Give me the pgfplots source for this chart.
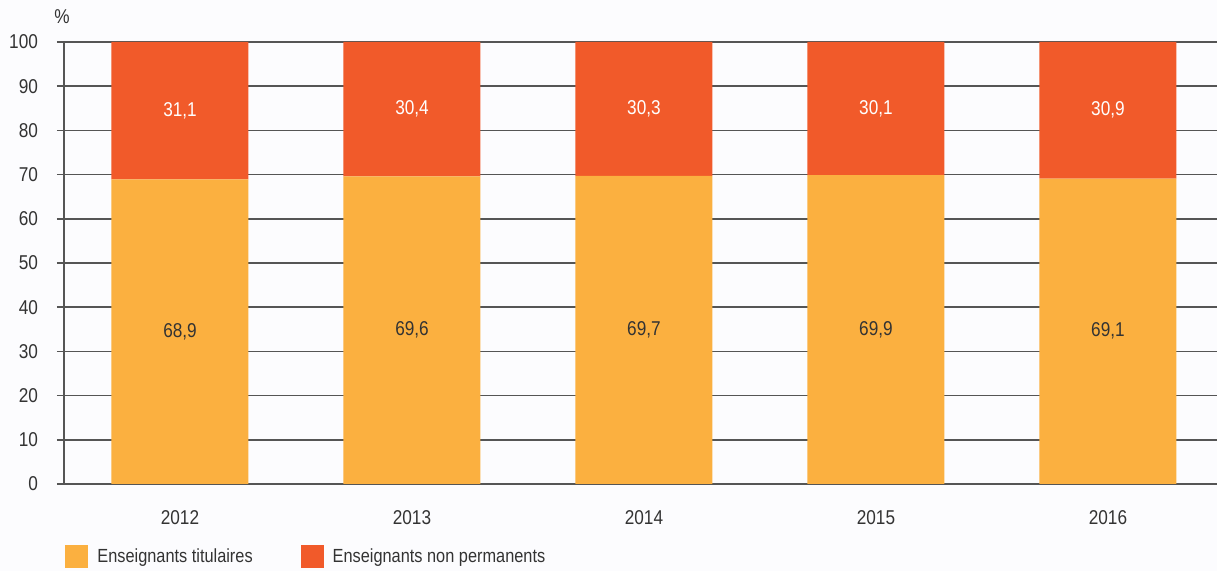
\documentclass[border=0pt]{standalone}
\usepackage{pgfplots}
\pgfplotsset{compat=1.18}
\usepackage{pgfplotstable}
\usepackage{fontspec}
\setmainfont{Liberation Sans}[FakeStretch=0.86]
\definecolor{cTit}{HTML}{FBB040}
\definecolor{cNon}{HTML}{F15A2A}
\definecolor{cGrid}{HTML}{555555}
\definecolor{cText}{HTML}{333333}
\definecolor{cBg}{HTML}{FCFCFE}
\pgfplotstableread{
x tit non
0 68.9 31.1
1 69.6 30.4
2 69.7 30.3
3 69.9 30.1
4 69.1 30.9
}\data
\pgfplotstableread{
x y lab
0 34.45 68,9
1 34.80 69,6
2 34.85 69,7
3 34.95 69,9
4 34.55 69,1
}\labbot
\pgfplotstableread{
x y lab
0 84.45 31,1
1 84.80 30,4
2 84.85 30,3
3 84.95 30,1
4 84.55 30,9
}\labtop
\begin{document}
\begin{tikzpicture}
\fill[cBg] (-32pt,-43.5pt) rectangle (576.5pt,242pt);
\path[use as bounding box] (-32pt,-43.5pt) rectangle (576.5pt,242pt);
\begin{axis}[
  at={(0,0)}, anchor=south west,
  scale only axis, width=576.5pt, height=221pt,
  xmin=-0.5, xmax=4.47, ymin=0, ymax=100,
  ybar stacked, bar width=68.5pt,
  axis lines=left, axis line style={-, draw=cGrid, line width=0.75pt},
  ytick={0,10,...,100},
  ymajorgrids, grid style={draw=cGrid, line width=0.75pt},
  xtick={0,1,2,3,4}, xticklabels={2012,2013,2014,2015,2016},
  major x tick style={draw=none},
  extra x ticks={-0.5,0.5,1.5,2.5,3.5}, extra x tick labels={},
  extra x tick style={grid=none, major tick length=4pt, tick style={draw=cGrid, line width=0.75pt}},
  tick align=outside, major tick length=3.5pt,
  y tick style={draw=cGrid, line width=0.75pt},
  tick label style={font=\fontsize{10}{12}\selectfont, text=cText},
  /pgf/number format/assume math mode=true,
  xticklabel style={yshift=-6pt},
  yticklabel style={xshift=-6pt},
  legend style={at={(0,-0.165)}, anchor=west, xshift=-2.5pt, draw=none, fill=none, legend columns=2,
    font=\fontsize{9.5}{11}\selectfont, text=cText,
    /tikz/every odd column/.style={column sep=2.5pt},
    /tikz/every even column/.style={column sep=22pt}},
  legend image code/.code={\fill[#1] (0pt,-5.75pt) rectangle (11.5pt,5.75pt);},
  legend cell align=left,
]
\addplot[fill=cTit, draw=none] table[x=x, y=tit]{\data};
\addlegendentry{Enseignants titulaires}
\addplot[fill=cNon, draw=none] table[x=x, y=non]{\data};
\addlegendentry{Enseignants non permanents}
\end{axis}
\begin{axis}[
  at={(0,0)}, anchor=south west,
  scale only axis, width=576.5pt, height=221pt,
  xmin=-0.5, xmax=4.47, ymin=0, ymax=100,
  hide axis, clip=false,
]
\addplot[draw=none, mark=none, nodes near coords, point meta=explicit symbolic,
  every node near coord/.style={anchor=center, text=cText, font=\fontsize{10}{12}\selectfont}]
  table[x=x, y=y, meta=lab]{\labbot};
\addplot[draw=none, mark=none, nodes near coords, point meta=explicit symbolic,
  every node near coord/.style={anchor=center, text=white, font=\fontsize{10}{12}\selectfont}]
  table[x=x, y=y, meta=lab]{\labtop};
\node[anchor=base, inner sep=0pt, text=cText, font=\fontsize{10}{12}\selectfont] at ([xshift=-1pt, yshift=9pt]rel axis cs:0,1) {\%};
\end{axis}
\end{tikzpicture}
\end{document}
